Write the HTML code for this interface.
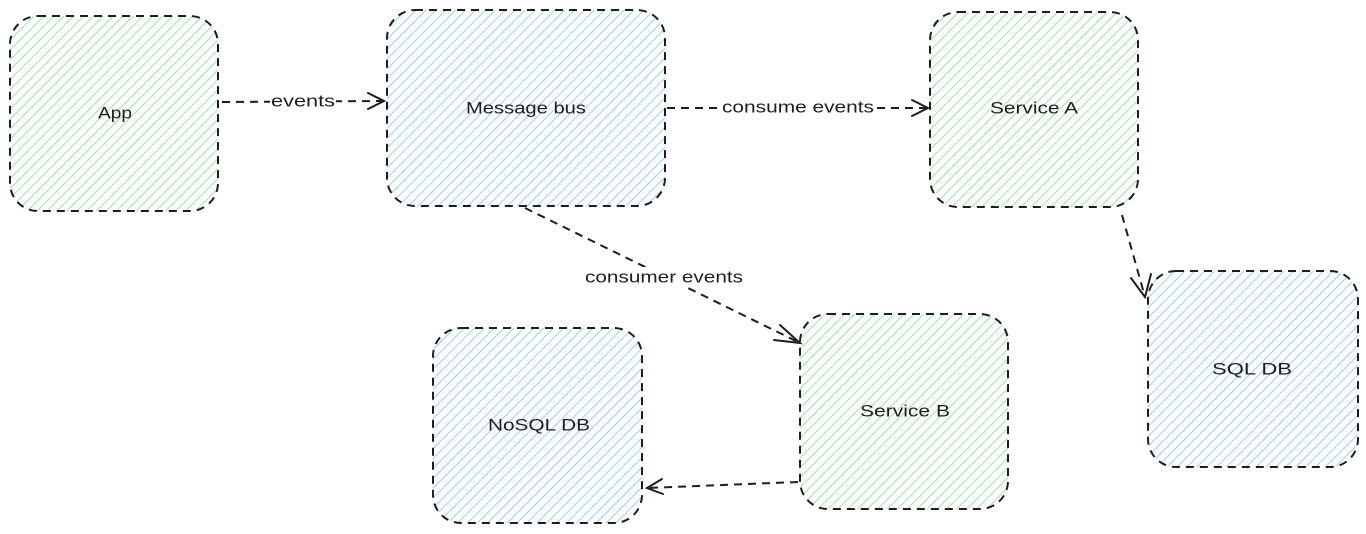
<!DOCTYPE html>
<html><head><meta charset="utf-8"><style>
html,body{margin:0;padding:0;background:#fff;width:1366px;height:534px;overflow:hidden}
text{font-family:"Liberation Sans",sans-serif;font-size:17px;fill:#1e1e1e}
</style></head><body>
<svg width="1366" height="534" viewBox="0 0 1366 534" xmlns="http://www.w3.org/2000/svg">
<defs>
<pattern id="hg" width="7" height="7" patternUnits="userSpaceOnUse" patternTransform="rotate(45)">
<line x1="0" y1="0" x2="0" y2="7" stroke="#7ddc8a" stroke-width="1.5"/></pattern>
<pattern id="hb" width="7" height="7" patternUnits="userSpaceOnUse" patternTransform="rotate(45)">
<line x1="0" y1="0" x2="0" y2="7" stroke="#7bbff0" stroke-width="1.5"/></pattern>
</defs>
<g stroke="#1e1e1e" stroke-width="2" stroke-dasharray="8 6">
<rect x="10" y="16" width="208" height="195" rx="28" fill="url(#hg)"/>
<rect x="387" y="10" width="278" height="196" rx="28" fill="url(#hb)"/>
<rect x="930" y="12" width="208" height="195" rx="28" fill="url(#hg)"/>
<rect x="1148" y="271" width="210" height="196" rx="28" fill="url(#hb)"/>
<rect x="800" y="314" width="208" height="195" rx="28" fill="url(#hg)"/>
<rect x="433" y="328" width="209" height="195" rx="28" fill="url(#hb)"/>
<line x1="222" y1="102" x2="384" y2="101"/>
<line x1="667" y1="108" x2="928" y2="108"/>
<line x1="525" y1="208" x2="800" y2="343"/>
<line x1="1122" y1="215" x2="1145" y2="297"/>
<line x1="798" y1="482" x2="647" y2="488"/>
</g>
<g stroke="#1e1e1e" stroke-width="2" fill="none" stroke-linecap="round">
<polyline points="368,93 384,101 368,109"/>
<polyline points="912,100 928,108 912,116"/>
<polyline points="780,325 800,343 774,340"/>
<polyline points="1131,278 1145,297 1151,274"/>
<polyline points="662,479 647,488 663,494"/>
</g>
<g>
<rect x="270" y="91" width="66" height="20" fill="#fff"/>
<rect x="721" y="97" width="154" height="20" fill="#fff"/>
<rect x="584" y="267" width="160" height="20" fill="#fff"/>
</g>
<g text-anchor="middle" dominant-baseline="central" lengthAdjust="spacingAndGlyphs">
<text x="303" y="101" textLength="64" lengthAdjust="spacingAndGlyphs">events</text>
<text x="798" y="107" textLength="152" lengthAdjust="spacingAndGlyphs">consume events</text>
<text x="664" y="277" textLength="158" lengthAdjust="spacingAndGlyphs">consumer events</text>
<text x="115" y="113" textLength="34" lengthAdjust="spacingAndGlyphs">App</text>
<text x="526" y="108" textLength="120" lengthAdjust="spacingAndGlyphs">Message bus</text>
<text x="1034" y="108" textLength="88" lengthAdjust="spacingAndGlyphs">Service A</text>
<text x="1252" y="369" textLength="80" lengthAdjust="spacingAndGlyphs">SQL DB</text>
<text x="905" y="411" textLength="90" lengthAdjust="spacingAndGlyphs">Service B</text>
<text x="539" y="425" textLength="102" lengthAdjust="spacingAndGlyphs">NoSQL DB</text>
</g>
</svg>
</body></html>
